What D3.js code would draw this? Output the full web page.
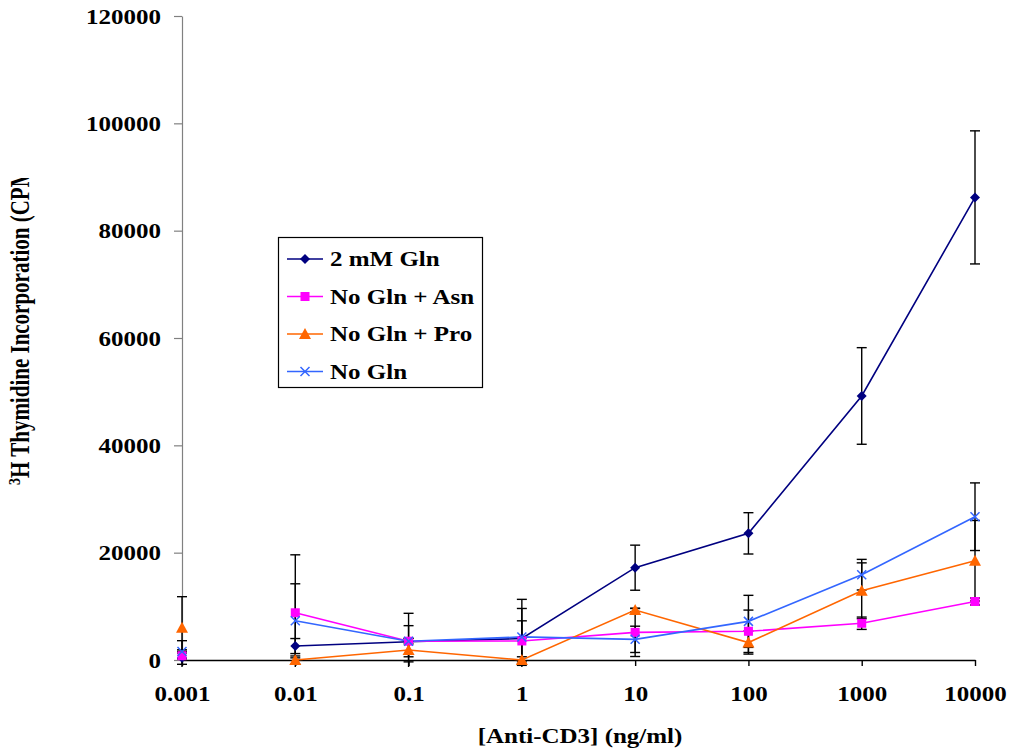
<!DOCTYPE html>
<html>
<head>
<meta charset="utf-8">
<script src="https://cdn.jsdelivr.net/npm/d3@7/dist/d3.min.js"></script>
<style>
  html, body { margin: 0; padding: 0; background: #fff; }
  svg { display: block; }
  text { font-family: "Liberation Serif", "Times New Roman", serif; font-weight: bold; fill: #000; }
</style>
</head>
<body>
<svg id="chart" width="1009" height="753"></svg>
<script>
// Anti-CD3 concentrations (ng/ml), plotted as evenly spaced categories
const doses = ["0.001", "0.01", "0.1", "1", "10", "100", "1000", "10000"];
const yTicks = [0, 20000, 40000, 60000, 80000, 100000, 120000];

// Mean 3H-thymidine incorporation (CPM) and error per dose
const gln2mM     = [400, 2600, 3400, 4000, 17200, 23600, 49200, 86200];
const gln2mMErr  = [1200, 1400, 5300, 7300, 4200, 3850, 9000, 12400];
const glnAsn     = [800, 8800, 3500, 3550, 5150, 5350, 6850, 10900];
const glnAsnErr  = [2800, 10800, 500, 3750, 4500, 3950, 1150, 650];
const glnPro     = [6000, 0, 1850, 0, 9300, 3250, 12900, 18500];
const glnProErr  = [5800, 750, 2200, 600, 300, 2150, 5200, 7500];
const noGln      = [1600, 7300, 3500, 4300, 3850, 7200, 15900, 26700];
const noGlnErr   = [300, 6900, 2900, 5300, 2450, 4850, 2850, 6300];

const seriesNames = ["2 mM Gln", "No Gln + Asn", "No Gln + Pro", "No Gln"];
const seriesColors = ["#000080", "#FF00FF", "#FF6600", "#3366FF"];
const seriesShapes = ["diamond", "square", "triangle", "cross"];

const series = [
  { name: seriesNames[0], values: gln2mM, errors: gln2mMErr, color: seriesColors[0], shape: seriesShapes[0] },
  { name: seriesNames[1], values: glnAsn, errors: glnAsnErr, color: seriesColors[1], shape: seriesShapes[1] },
  { name: seriesNames[2], values: glnPro, errors: glnProErr, color: seriesColors[2], shape: seriesShapes[2] },
  { name: seriesNames[3], values: noGln,  errors: noGlnErr,  color: seriesColors[3], shape: seriesShapes[3] }
];

// lines are joined from the 0.01 dose onward; the 0.001 readings stand alone
const firstJoined = 1;
const stretchX = 1.25;

const svg = d3.select("#chart");
const defs = svg.append("defs");
const x = d3.scalePoint().domain(doses).range([182, 975]);
const y = d3.scaleLinear().domain([0, 120000]).range([660, 16]);

defs.append("clipPath").attr("id", "plotClip")
  .append("rect").attr("x", 0).attr("y", 0).attr("width", 1009).attr("height", 667);
defs.append("clipPath").attr("id", "titleClip")
  .append("rect").attr("x", 0).attr("y", 178).attr("width", 80).attr("height", 500);

// y axis
const yAxis = svg.append("g").attr("transform", "translate(182,0)")
  .call(d3.axisLeft(y).tickValues(yTicks).tickSize(8).tickSizeOuter(0).tickFormat(d => String(d)));
yAxis.select(".domain").attr("stroke", "#808080").attr("stroke-width", 1.2);
yAxis.selectAll(".tick line").attr("stroke", "#808080").attr("stroke-width", 1.2);
yAxis.selectAll(".tick text")
  .attr("x", null).attr("dy", null)
  .attr("transform", `translate(-21,7) scale(${stretchX},1)`)
  .attr("text-anchor", "end")
  .style("font-size", "20px");

// error bars, drawn under the lines and markers
const errG = svg.append("g").attr("clip-path", "url(#plotClip)");
series.forEach(s => {
  s.values.forEach((v, i) => {
    const cx = x(doses[i]);
    const hi = y(v + s.errors[i]);
    const lo = y(v - s.errors[i]);
    errG.append("line").attr("x1", cx).attr("x2", cx).attr("y1", hi).attr("y2", lo)
      .attr("stroke", "#000").attr("stroke-width", 1.4);
    [hi, lo].forEach(yy => {
      errG.append("line").attr("x1", cx - 5).attr("x2", cx + 5).attr("y1", yy).attr("y2", yy)
        .attr("stroke", "#000").attr("stroke-width", 1.4);
    });
  });
});

// x axis
const xAxis = svg.append("g").attr("transform", "translate(0,660)")
  .call(d3.axisBottom(x).tickSize(6).tickSizeOuter(0));
xAxis.select(".domain").attr("stroke", "#000").attr("stroke-width", 1.4);
xAxis.selectAll(".tick line").attr("stroke", "#000").attr("stroke-width", 1.4);
xAxis.selectAll(".tick text")
  .attr("y", null).attr("dy", null)
  .attr("transform", `translate(0,41) scale(${stretchX},1)`)
  .style("font-size", "20px");

// series lines
const line = d3.line().x(d => x(d.dose)).y(d => y(d.value));
series.forEach(s => {
  const pts = s.values.map((v, i) => ({ dose: doses[i], value: v })).slice(firstJoined);
  svg.append("path").datum(pts).attr("d", line)
    .attr("fill", "none").attr("stroke", s.color).attr("stroke-width", 1.6);
});

function drawMarker(g, shape, color, cx, cy) {
  if (shape === "diamond") {
    g.append("path").attr("d", `M${cx},${cy - 5}L${cx + 5},${cy}L${cx},${cy + 5}L${cx - 5},${cy}Z`).attr("fill", color);
  } else if (shape === "square") {
    g.append("rect").attr("x", cx - 4.5).attr("y", cy - 4.5).attr("width", 9).attr("height", 9).attr("fill", color);
  } else if (shape === "triangle") {
    g.append("path").attr("d", `M${cx},${cy - 6}L${cx + 6},${cy + 5}L${cx - 6},${cy + 5}Z`).attr("fill", color);
  } else {
    g.append("path").attr("d", `M${cx - 4.5},${cy - 4.5}L${cx + 4.5},${cy + 4.5}M${cx - 4.5},${cy + 4.5}L${cx + 4.5},${cy - 4.5}`)
      .attr("stroke", color).attr("stroke-width", 1.5).attr("fill", "none");
  }
}

const markG = svg.append("g");
series.forEach(s => {
  s.values.forEach((v, i) => drawMarker(markG, s.shape, s.color, x(doses[i]), y(v)));
});

// legend
const legend = svg.append("g");
legend.append("rect").attr("x", 278.5).attr("y", 237.5).attr("width", 204).attr("height", 150)
  .attr("fill", "#fff").attr("stroke", "#000").attr("stroke-width", 1.2);
series.forEach((s, i) => {
  const cy = 259 + i * 37.5;
  legend.append("line").attr("x1", 287).attr("x2", 323).attr("y1", cy).attr("y2", cy)
    .attr("stroke", s.color).attr("stroke-width", 1.6);
  drawMarker(legend, s.shape, s.color, 305, cy);
  legend.append("text")
    .attr("transform", `translate(330,${cy + 7}) scale(${stretchX},1)`)
    .style("font-size", "20px")
    .text(s.name);
});

// axis titles
svg.append("text")
  .attr("transform", `translate(580,743) scale(${stretchX},1)`)
  .attr("text-anchor", "middle")
  .style("font-size", "20px")
  .text("[Anti-CD3] (ng/ml)");

const yTitle = svg.append("g").attr("clip-path", "url(#titleClip)")
  .append("text")
  .attr("transform", `translate(28.5,485) scale(${stretchX},1) rotate(-90)`)
  .style("font-size", "21px");
yTitle.append("tspan").attr("dy", "-7").style("font-size", "14px").text("3");
yTitle.append("tspan").attr("dy", "7").text("H Thymidine Incorporation (CPM)");
</script>
</body>
</html>
